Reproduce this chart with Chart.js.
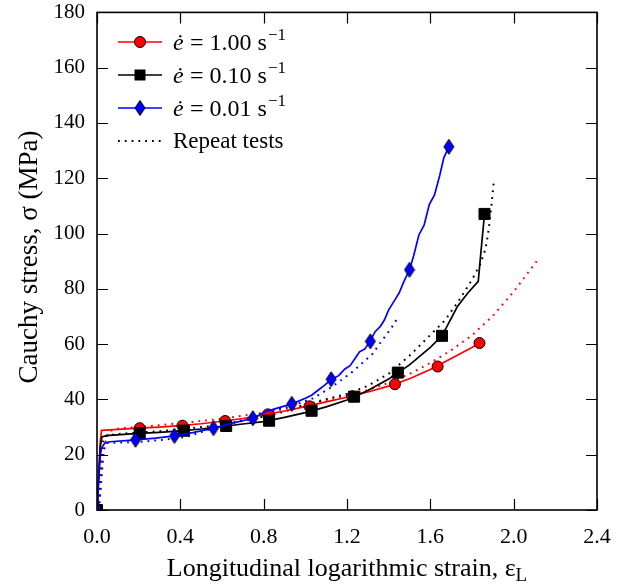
<!DOCTYPE html>
<html><head><meta charset="utf-8">
<script src="https://cdn.jsdelivr.net/npm/chart.js@4/dist/chart.umd.min.js"></script>
<style>html,body{margin:0;padding:0;background:#fff}</style>
</head><body>
<canvas id="c" width="622" height="587"></canvas>
<script>
// ---- tick labels ----
const xTickVals = [0, 0.4, 0.8, 1.2, 1.6, 2.0, 2.4];
const yTickVals = [0, 20, 40, 60, 80, 100, 120, 140, 160, 180];

// ---- e_dot = 1.00 /s (red) ----
const redX = [0, 0.004, 0.010, 0.016, 0.022, 0.1, 0.2, 0.3, 0.4, 0.5, 0.6, 0.7, 0.8, 0.9, 1.0, 1.1, 1.2, 1.3, 1.4, 1.5, 1.6, 1.7, 1.8, 1.836];
const redY = [0, 6, 16, 25, 28.8, 29.2, 29.6, 30.0, 30.5, 31.2, 32.1, 33.1, 34.4, 35.8, 37.4, 39.1, 40.8, 42.7, 44.8, 47.5, 50.8, 54.8, 58.8, 60.4];
const redMkX = [0, 0.205, 0.41, 0.615, 0.82, 1.02, 1.225, 1.43, 1.635, 1.836];
const redMkY = [0, 29.6, 30.5, 32.2, 34.6, 37.5, 41.1, 45.5, 51.9, 60.4];
const redRepX = [0.008, 0.015, 0.022, 0.03, 0.04, 0.055, 0.11, 0.2, 0.3, 0.4, 0.5, 0.6, 0.7, 0.8, 0.9, 1.0, 1.1, 1.2, 1.3, 1.4, 1.5, 1.6, 1.7, 1.8, 1.9, 2.0, 2.124];
const redRepY = [0, 5, 12, 19, 24.5, 28.4, 29.6, 30.0, 30.7, 31.4, 32.2, 33.0, 34.1, 35.3, 36.6, 38.1, 39.7, 41.4, 43.4, 46.0, 49.2, 53.2, 57.8, 63.2, 70.2, 79.0, 91.3];

// ---- e_dot = 0.10 /s (black) ----
const blkX = [0, 0.004, 0.010, 0.016, 0.024, 0.06, 0.2, 0.3, 0.4, 0.5, 0.6, 0.7, 0.8, 0.9, 1.0, 1.1, 1.2, 1.3, 1.4, 1.5, 1.6, 1.656, 1.73, 1.78, 1.83, 1.845, 1.855, 1.86];
const blkY = [0, 6, 15, 23, 26.5, 27.0, 27.7, 28.1, 28.6, 29.3, 30.2, 31.1, 32.0, 33.5, 35.2, 37.3, 39.8, 43.2, 47.4, 52.5, 58.8, 63.0, 73.6, 78.5, 82.7, 95.0, 103.0, 107.1];
const blkMkX = [0, 0.205, 0.417, 0.62, 0.826, 1.03, 1.234, 1.444, 1.656, 1.86];
const blkMkY = [0, 27.8, 28.7, 30.4, 32.3, 35.9, 41.0, 49.7, 63.0, 107.1];
const blkRepX = [0.006, 0.012, 0.018, 0.025, 0.04, 0.1, 0.2, 0.3, 0.4, 0.5, 0.6, 0.7, 0.8, 0.9, 1.0, 1.1, 1.2, 1.3, 1.4, 1.5, 1.6, 1.67, 1.74, 1.8, 1.84, 1.865, 1.88, 1.893, 1.904];
const blkRepY = [0, 7, 16, 24, 26.8, 27.5, 28.0, 28.5, 29.2, 30.0, 30.9, 32.2, 33.8, 35.6, 38.0, 40.1, 42.0, 44.9, 49.3, 55.8, 63.3, 68.6, 76.1, 83.3, 89.0, 94.5, 101.4, 109.9, 118.3];

// ---- e_dot = 0.01 /s (blue) ----
const bluX = [0, 0.004, 0.010, 0.016, 0.022, 0.038, 0.062, 0.186, 0.28, 0.374, 0.46, 0.56, 0.65, 0.75, 0.81, 0.89, 0.936, 1.0, 1.03, 1.064, 1.09, 1.125, 1.16, 1.19, 1.215, 1.24, 1.26, 1.285, 1.31, 1.335, 1.36, 1.38, 1.40, 1.43, 1.45, 1.475, 1.5, 1.52, 1.545, 1.57, 1.595, 1.62, 1.645, 1.665, 1.689];
const bluY = [0, 5, 13, 20, 22.5, 24.2, 24.7, 25.4, 26.0, 26.8, 28.0, 29.6, 31.4, 33.2, 35.6, 37.4, 38.4, 40.4, 41.5, 43.5, 45.0, 47.3, 48.6, 51.0, 52.2, 55.0, 57.2, 58.2, 61.0, 64.5, 66.4, 68.8, 72.4, 76.0, 78.5, 83.0, 86.9, 92.0, 99.5, 103.0, 110.5, 114.0, 121.0, 127.5, 131.4];
const bluMkX = [0, 0.185, 0.372, 0.559, 0.748, 0.935, 1.124, 1.312, 1.50, 1.689];
const bluMkY = [0, 25.4, 26.8, 29.6, 33.2, 38.4, 47.3, 61.0, 86.9, 131.4];
const bluRepX = [0.008, 0.015, 0.022, 0.03, 0.046, 0.1, 0.22, 0.33, 0.43, 0.56, 0.70, 0.83, 0.926, 1.036, 1.131, 1.228, 1.323, 1.36, 1.41, 1.448];
const bluRepY = [0, 6, 14, 21.7, 24.2, 24.4, 24.7, 25.5, 26.5, 29.6, 32.6, 35.6, 37.4, 40.4, 44.7, 50.1, 56.5, 60.5, 65.5, 70.0];

const legendLabels = ['1.00', '0.10', '0.01'];
const repeatLabel = 'Repeat tests';

const pts = (xs, ys) => xs.map((x, i) => ({x, y: ys[i]}));
const FONT = "'Liberation Serif', 'Times New Roman', serif";
Chart.defaults.font.family = FONT;
Chart.defaults.color = '#000';

// diamond marker
function makeDiamond(w, h, fill) {
  const c = document.createElement('canvas');
  c.width = w + 2; c.height = h + 2;
  const g = c.getContext('2d');
  g.beginPath();
  g.moveTo(c.width / 2, 1); g.lineTo(c.width - 1, c.height / 2);
  g.lineTo(c.width / 2, c.height - 1); g.lineTo(1, c.height / 2); g.closePath();
  g.fillStyle = fill; g.fill(); g.lineWidth = 1; g.strokeStyle = '#000'; g.stroke();
  return c;
}
const diamond = makeDiamond(10, 15, '#0000ff');

const lineDs = (data, color, dashed, order) => ({
  type: 'line', data, borderColor: color, backgroundColor: color,
  borderWidth: dashed ? 2 : 1.7, borderDash: dashed ? [1.8, 5] : [],
  pointRadius: 0, tension: 0, fill: false, order
});
const markDs = (data, style, bg, radius, order) => ({
  type: 'scatter', data, showLine: false, pointStyle: style,
  pointRadius: radius, pointHoverRadius: radius,
  pointBackgroundColor: bg, pointBorderColor: '#000', pointBorderWidth: 1, order
});

const datasets = [
  lineDs(pts(redRepX, redRepY), '#ff0000', true, 9),
  lineDs(pts(blkRepX, blkRepY), '#000000', true, 8),
  lineDs(pts(bluRepX, bluRepY), '#0000ff', true, 7),
  lineDs(pts(redX, redY), '#ff0000', false, 6),
  markDs(pts(redMkX, redMkY), 'circle', '#ff0000', 5.5, 5),
  lineDs(pts(blkX, blkY), '#000000', false, 4),
  markDs(pts(blkMkX, blkMkY), 'rect', '#000000', 7.8, 3),
  lineDs(pts(bluX, bluY), '#0000ff', false, 2),
  markDs(pts(bluMkX, bluMkY), diamond, '#0000ff', 7, 1)
];

const decor = {
  id: 'decor',
  afterDraw(chart) {
    const ctx = chart.ctx, a = chart.chartArea;
    const xs = chart.scales.x, ys = chart.scales.y;
    ctx.save();
    // inward ticks
    ctx.strokeStyle = '#000'; ctx.lineWidth = 1.2;
    const L = 11;
    ctx.beginPath();
    xTickVals.forEach(v => {
      const px = Math.round(xs.getPixelForValue(v)) + 0.5;
      ctx.moveTo(px, a.bottom); ctx.lineTo(px, a.bottom - L);
      ctx.moveTo(px, a.top); ctx.lineTo(px, a.top + L);
    });
    yTickVals.forEach(v => {
      const py = Math.round(ys.getPixelForValue(v)) + 0.5;
      ctx.moveTo(a.left, py); ctx.lineTo(a.left + L, py);
      ctx.moveTo(a.right, py); ctx.lineTo(a.right - L, py);
    });
    ctx.stroke();
    // frame
    ctx.lineWidth = 1.6;
    ctx.strokeRect(a.left, a.top, a.right - a.left, a.bottom - a.top);

    // axis titles
    ctx.fillStyle = '#000';
    ctx.textBaseline = 'alphabetic';
    const main = 'Longitudinal logarithmic strain, ε';
    ctx.font = `26px ${FONT}`;
    const wMain = ctx.measureText(main).width;
    ctx.font = `19px ${FONT}`;
    const wSub = ctx.measureText('L').width;
    const cx = (a.left + a.right) / 2;
    let x0 = cx - (wMain + wSub) / 2;
    ctx.font = `26px ${FONT}`;
    ctx.textAlign = 'left';
    ctx.fillText(main, x0, 576);
    ctx.font = `19px ${FONT}`;
    ctx.fillText('L', x0 + wMain, 581);

    ctx.save();
    ctx.translate(37, 257);
    ctx.rotate(-Math.PI / 2);
    ctx.textAlign = 'center';
    ctx.font = `27px ${FONT}`;
    ctx.fillText('Cauchy stress, σ (MPa)', 0, 0);
    ctx.restore();

    // legend
    const rows = [42, 75, 108, 141];
    const colors = ['#ff0000', '#000000', '#0000ff'];
    const lx0 = 118, lx1 = 162, mx = 140, tx = 173;
    for (let i = 0; i < 3; i++) {
      const y = rows[i];
      ctx.strokeStyle = colors[i]; ctx.lineWidth = 1.7; ctx.setLineDash([]);
      ctx.beginPath(); ctx.moveTo(lx0, y); ctx.lineTo(lx1, y); ctx.stroke();
      ctx.lineWidth = 1; ctx.strokeStyle = '#000';
      if (i === 0) {
        ctx.beginPath(); ctx.arc(mx, y, 5.5, 0, Math.PI * 2);
        ctx.fillStyle = '#ff0000'; ctx.fill(); ctx.stroke();
      } else if (i === 1) {
        ctx.fillStyle = '#000'; ctx.fillRect(mx - 5.5, y - 5.5, 11, 11);
      } else {
        ctx.drawImage(diamond, mx - diamond.width / 2, y - diamond.height / 2);
      }
      ctx.fillStyle = '#000';
      ctx.textAlign = 'left'; ctx.textBaseline = 'alphabetic';
      const by = y + 8;
      ctx.font = `italic 24px ${FONT}`;
      ctx.fillText('ė', tx, by);
      ctx.font = `24px ${FONT}`;
      const rest = '= ' + legendLabels[i] + ' s';
      ctx.fillText(rest, tx + 17, by);
      const wr = ctx.measureText(rest).width;
      ctx.font = `17px ${FONT}`;
      ctx.fillText('−1', tx + 17 + wr + 1, by - 10);
    }
    // repeat tests
    const y4 = rows[3];
    ctx.strokeStyle = '#000'; ctx.lineWidth = 2; ctx.setLineDash([1.8, 5]);
    ctx.beginPath(); ctx.moveTo(lx0, y4); ctx.lineTo(lx1, y4); ctx.stroke();
    ctx.setLineDash([]);
    ctx.font = `23px ${FONT}`;
    ctx.fillText(repeatLabel, tx, y4 + 7);
    ctx.restore();
  }
};

new Chart(document.getElementById('c'), {
  data: { datasets },
  options: {
    responsive: false, animation: false,
    layout: { padding: { left: 8, right: 25, top: 0, bottom: 8 } },
    plugins: { legend: { display: false }, tooltip: { enabled: false } },
    scales: {
      x: {
        type: 'linear', min: 0, max: 2.4,
        afterBuildTicks: s => { s.ticks = xTickVals.map(v => ({value: v})); },
        afterFit: s => { s.height = 69; },
        grid: { display: false }, border: { display: false },
        ticks: { font: { size: 22 }, padding: 6, maxRotation: 0, autoSkip: false,
                 callback: v => Number(v).toFixed(1) }
      },
      y: {
        type: 'linear', min: 0, max: 180,
        afterBuildTicks: s => { s.ticks = yTickVals.map(v => ({value: v})); },
        afterFit: s => { s.width = 89; },
        grid: { display: false }, border: { display: false },
        ticks: { font: { size: 21, lineHeight: 0.8 }, padding: 4, autoSkip: false,
                 callback: v => String(v) }
      }
    }
  },
  plugins: [decor]
});
</script>
</body></html>
